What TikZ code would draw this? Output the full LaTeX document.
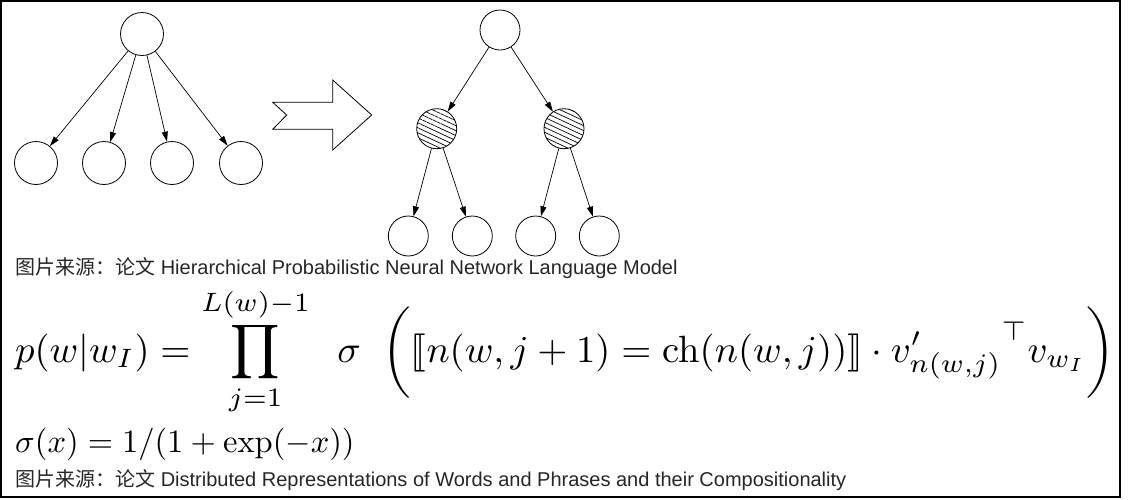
\documentclass[tikz,border=0pt]{standalone}
\usepackage{amsmath,amssymb,stmaryrd,graphicx}
\usepackage[no-math]{fontspec}
\setmainfont{Liberation Sans}
\newfontfamily\cjk{Noto Sans CJK SC}
\usetikzlibrary{arrows.meta,patterns.meta}

\tikzset{
  leaf/.style={circle,draw,line width=0.8pt,minimum size=43pt,inner sep=0pt},
  hnode/.style={leaf,minimum size=40pt,pattern={Lines[angle=-25,distance=4.5pt,line width=0.7pt]}},
  link/.style={-{Triangle[length=10pt,width=6pt]},line width=0.7pt},
  source/.style={anchor=base west,inner sep=0pt,font=\fontsize{20}{24}\selectfont,text=black!85},
  formula/.style={anchor=base west,inner sep=0pt}
}

\begin{document}
\begin{tikzpicture}[x=1pt,y=-1pt]
\useasboundingbox (0,0) rectangle (1131,499);
\draw[line width=2pt] (1,1) rectangle (1120,497);

\node[leaf] (top) at (142,34) {};
\node[leaf] (a1) at (36,163) {};
\node[leaf] (a2) at (104,163) {};
\node[leaf] (a3) at (172,163) {};
\node[leaf] (a4) at (241,163) {};
\foreach \i in {1,...,4} \draw[link] (top) -- (a\i);

\draw[line width=0.8pt] (272.7,102.3) -- (332.7,102.3) -- (332.7,80) -- (371.7,115)
  -- (332.7,150) -- (332.7,129.3) -- (272.7,129.3) -- (286.7,115) -- cycle;

\node[leaf,minimum size=40pt] (root) at (500,30) {};
\node[hnode] (h1) at (436.7,128.7) {};
\node[hnode] (h2) at (564,128.7) {};
\node[leaf,minimum size=40pt] (b1) at (408.3,236) {};
\node[leaf,minimum size=40pt] (b2) at (472.3,236) {};
\node[leaf,minimum size=40pt] (b3) at (535.7,236) {};
\node[leaf,minimum size=40pt] (b4) at (599.3,236) {};
\draw[link] (root) -- (h1);
\draw[link] (root) -- (h2);
\draw[link] (h1) -- (b1);
\draw[link] (h1) -- (b2);
\draw[link] (h2) -- (b3);
\draw[link] (h2) -- (b4);

\node[source] (cap1) at (15,274) {{\cjk 图片来源：论文} Hierarchical Probabilistic Neural Network Language Model};
\node[formula] (eq1) at (15,362) {\scalebox{3.87}[3.8]{$\displaystyle p(w|w_I) = \prod_{j=1}^{L(w)-1} \;\; \sigma\;\;\biggl(\llbracket n(w,j+1) = \mathrm{ch}(n(w,j))\rrbracket \cdot {v'_{n(w,j)}}^{\top} v_{w_I}\biggr)$}};
\node[formula] (eq2) at (15,452) {\scalebox{3.25}{$\sigma(x) = 1/(1+\exp(-x))$}};
\node[source] (cap2) at (15,486) {{\cjk 图片来源：论文} Distributed Representations of Words and Phrases and their Compositionality};
\end{tikzpicture}
\end{document}
